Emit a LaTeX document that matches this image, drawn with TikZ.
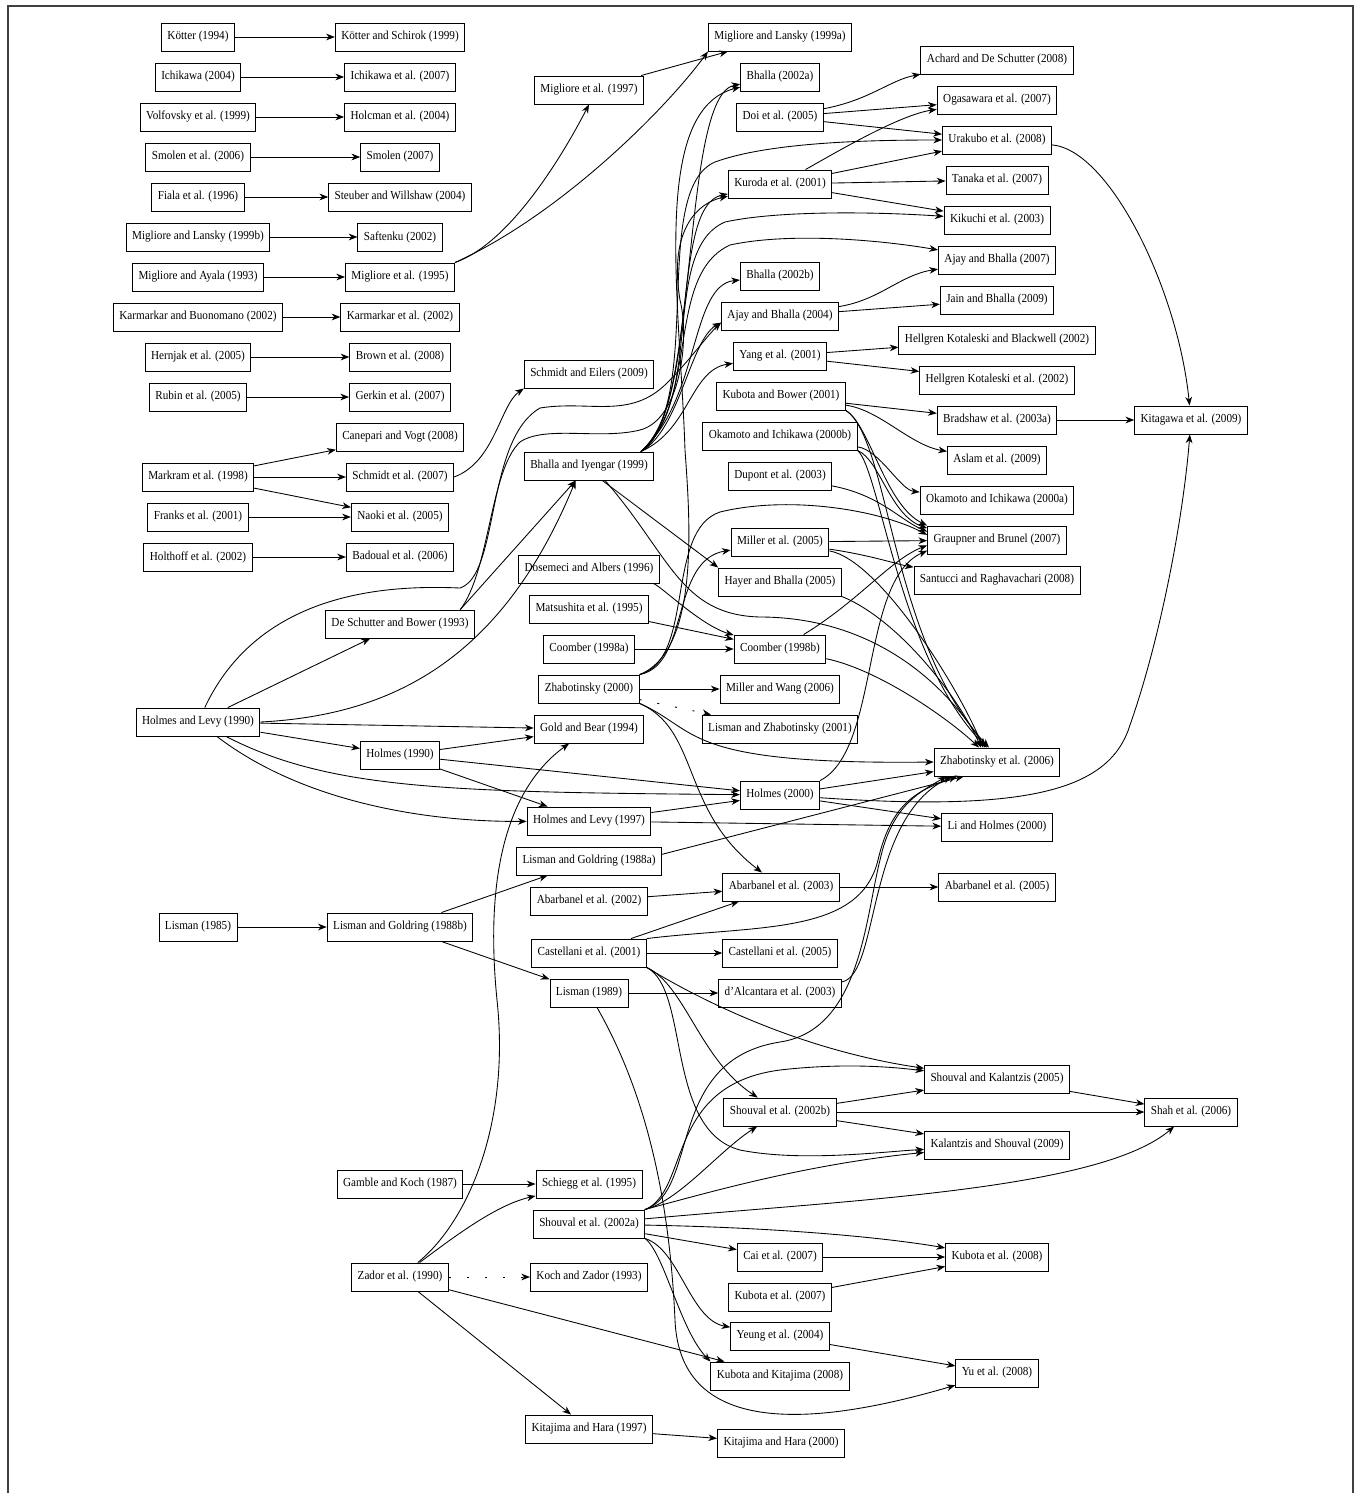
\documentclass[tikz,border=0pt]{standalone}
\usepackage{fontspec}
\setmainfont{Liberation Serif}[FakeStretch=0.91]
\usetikzlibrary{arrows.meta}

\tikzset{
  paper/.style={draw, line width=0.7pt, minimum height=21pt,
    inner xsep=4.5pt, inner ysep=0pt, font=\fontsize{9.2}{10}\selectfont},
  cites/.style={-{Stealth[length=6.5pt,width=5pt,inset=2pt]}, line width=0.65pt},
  hint/.style={cites, dash pattern=on 1.5pt off 12pt}
}

\begin{document}
\begin{tikzpicture}[x=0.75pt,y=-0.75pt]
\useasboundingbox (0,0) rectangle (1356,1493);
\draw[line width=0.8pt,black!75] (8,1493) -- (8,6) -- (1353,6) -- (1353,1493);

% first column
\node[paper] (kot94) at (198,37) {Kötter (1994)};
\node[paper] (ich04) at (198,77) {Ichikawa (2004)};
\node[paper] (vol99) at (198,117) {Volfovsky et al. (1999)};
\node[paper] (smo06) at (198,157) {Smolen et al. (2006)};
\node[paper] (fia96) at (198,197) {Fiala et al. (1996)};
\node[paper] (mig99b) at (198,237) {Migliore and Lansky (1999b)};
\node[paper] (mig93) at (198,277) {Migliore and Ayala (1993)};
\node[paper] (kar02a) at (198,317) {Karmarkar and Buonomano (2002)};
\node[paper] (her05) at (198,357) {Hernjak et al. (2005)};
\node[paper] (rub05) at (198,397) {Rubin et al. (2005)};
\node[paper] (mar98) at (198,477) {Markram et al. (1998)};
\node[paper] (fra01) at (198,517) {Franks et al. (2001)};
\node[paper] (hlt02) at (198,557) {Holthoff et al. (2002)};
\node[paper] (hl90) at (198,722) {Holmes and Levy (1990)};
\node[paper] (lis85) at (198,927) {Lisman (1985)};

% second column
\node[paper] (kot99) at (400,37) {Kötter and Schirok (1999)};
\node[paper] (ich07) at (400,77) {Ichikawa et al. (2007)};
\node[paper] (hcm04) at (400,117) {Holcman et al. (2004)};
\node[paper] (smo07) at (400,157) {Smolen (2007)};
\node[paper] (ste04) at (400,197) {Steuber and Willshaw (2004)};
\node[paper] (saf02) at (400,237) {Saftenku (2002)};
\node[paper] (mig95) at (400,277) {Migliore et al. (1995)};
\node[paper] (kar02b) at (400,317) {Karmarkar et al. (2002)};
\node[paper] (bro08) at (400,357) {Brown et al. (2008)};
\node[paper] (ger07) at (400,397) {Gerkin et al. (2007)};
\node[paper] (can08) at (400,437) {Canepari and Vogt (2008)};
\node[paper] (sch07) at (400,477) {Schmidt et al. (2007)};
\node[paper] (nao05) at (400,517) {Naoki et al. (2005)};
\node[paper] (bad06) at (400,557) {Badoual et al. (2006)};
\node[paper] (des93) at (400,624) {De Schutter and Bower (1993)};
\node[paper] (hol90) at (400,755) {Holmes (1990)};
\node[paper] (lg88b) at (400,927) {Lisman and Goldring (1988b)};
\node[paper] (gam87) at (400,1184) {Gamble and Koch (1987)};
\node[paper] (zad90) at (400,1277) {Zador et al. (1990)};

% third column
\node[paper] (mig97) at (589,90) {Migliore et al. (1997)};
\node[paper] (sch09) at (589,374) {Schmidt and Eilers (2009)};
\node[paper] (bi99) at (589,466) {Bhalla and Iyengar (1999)};
\node[paper] (dos96) at (589,569) {Dosemeci and Albers (1996)};
\node[paper] (mat95) at (589,609) {Matsushita et al. (1995)};
\node[paper] (coo98a) at (589,649) {Coomber (1998a)};
\node[paper] (zha00) at (589,689) {Zhabotinsky (2000)};
\node[paper] (gol94) at (589,729) {Gold and Bear (1994)};
\node[paper] (hl97) at (589,821) {Holmes and Levy (1997)};
\node[paper] (lg88a) at (589,861) {Lisman and Goldring (1988a)};
\node[paper] (aba02) at (589,901) {Abarbanel et al. (2002)};
\node[paper] (cas01) at (589,953) {Castellani et al. (2001)};
\node[paper] (lis89) at (589,993) {Lisman (1989)};
\node[paper] (sch95) at (589,1184) {Schiegg et al. (1995)};
\node[paper] (sho02a) at (589,1224) {Shouval et al. (2002a)};
\node[paper] (koc93) at (589,1277) {Koch and Zador (1993)};
\node[paper] (kit97) at (589,1429) {Kitajima and Hara (1997)};

% fourth column
\node[paper] (mig99a) at (780,37) {Migliore and Lansky (1999a)};
\node[paper] (bha02a) at (780,77) {Bhalla (2002a)};
\node[paper] (doi05) at (780,117) {Doi et al. (2005)};
\node[paper] (kur01) at (780,184) {Kuroda et al. (2001)};
\node[paper] (bha02b) at (780,276) {Bhalla (2002b)};
\node[paper] (aja04) at (780,316) {Ajay and Bhalla (2004)};
\node[paper] (yan01) at (780,356) {Yang et al. (2001)};
\node[paper] (kub01) at (781,396) {Kubota and Bower (2001)};
\node[paper] (oka00b) at (780,436) {Okamoto and Ichikawa (2000b)};
\node[paper] (dup03) at (780,476) {Dupont et al. (2003)};
\node[paper] (mil05) at (780,542) {Miller et al. (2005)};
\node[paper] (hay05) at (780,582) {Hayer and Bhalla (2005)};
\node[paper] (coo98b) at (780,649) {Coomber (1998b)};
\node[paper] (mil06) at (780,689) {Miller and Wang (2006)};
\node[paper] (liz01) at (780,729) {Lisman and Zhabotinsky (2001)};
\node[paper] (hol00) at (780,795) {Holmes (2000)};
\node[paper] (aba03) at (781,887) {Abarbanel et al. (2003)};
\node[paper] (cas05) at (780,953) {Castellani et al. (2005)};
\node[paper] (dal03) at (780,993) {d’Alcantara et al. (2003)};
\node[paper] (sho02b) at (780,1112) {Shouval et al. (2002b)};
\node[paper] (cai07) at (780,1257) {Cai et al. (2007)};
\node[paper] (kub07) at (780,1297) {Kubota et al. (2007)};
\node[paper] (yeu04) at (780,1336) {Yeung et al. (2004)};
\node[paper] (kuk08) at (780,1376) {Kubota and Kitajima (2008)};
\node[paper] (kit00) at (781,1443) {Kitajima and Hara (2000)};

% fifth column
\node[paper] (ach08) at (997,60) {Achard and De Schutter (2008)};
\node[paper] (oga07) at (997,100) {Ogasawara et al. (2007)};
\node[paper] (ura08) at (997,140) {Urakubo et al. (2008)};
\node[paper] (tan07) at (997,180) {Tanaka et al. (2007)};
\node[paper] (kik03) at (997,220) {Kikuchi et al. (2003)};
\node[paper] (aja07) at (997,260) {Ajay and Bhalla (2007)};
\node[paper] (jai09) at (997,300) {Jain and Bhalla (2009)};
\node[paper] (hkb02) at (997,340) {Hellgren Kotaleski and Blackwell (2002)};
\node[paper] (hke02) at (997,380) {Hellgren Kotaleski et al. (2002)};
\node[paper] (bra03) at (997,420) {Bradshaw et al. (2003a)};
\node[paper] (asl09) at (997,460) {Aslam et al. (2009)};
\node[paper] (oka00a) at (997,500) {Okamoto and Ichikawa (2000a)};
\node[paper] (gra07) at (997,540) {Graupner and Brunel (2007)};
\node[paper] (san08) at (997,580) {Santucci and Raghavachari (2008)};
\node[paper] (zha06) at (997,762) {Zhabotinsky et al. (2006)};
\node[paper] (lih00) at (997,827) {Li and Holmes (2000)};
\node[paper] (aba05) at (997,887) {Abarbanel et al. (2005)};
\node[paper] (shk05) at (997,1079) {Shouval and Kalantzis (2005)};
\node[paper] (kas09) at (997,1145) {Kalantzis and Shouval (2009)};
\node[paper] (kub08) at (997,1257) {Kubota et al. (2008)};
\node[paper] (yu08) at (997,1373) {Yu et al. (2008)};

% last column
\node[paper] (kit09) at (1191,420) {Kitagawa et al. (2009)};
\node[paper] (sha06) at (1191,1112) {Shah et al. (2006)};

% straight citations
\foreach \a/\b in {kot94/kot99, ich04/ich07, vol99/hcm04, smo06/smo07,
    fia96/ste04, mig99b/saf02, mig93/mig95, kar02a/kar02b, her05/bro08,
    rub05/ger07, mar98/can08, mar98/sch07, mar98/nao05, fra01/nao05,
    hlt02/bad06, mig97/mig99a, hl90/des93, hl90/hol90, hl90/gol94,
    hol90/gol94, hol90/hol00, hol90/hl97, hl97/hol00, hl97/lih00,
    hol00/zha06, hol00/lih00, doi05/oga07, doi05/ura08, kur01/ura08,
    kur01/tan07, kur01/kik03, aja04/jai09, yan01/hkb02, yan01/hke02,
    kub01/bra03, bra03/kit09, mil05/gra07, zha00/mil06, coo98a/coo98b,
    mat95/coo98b, aba02/aba03, cas01/aba03, aba03/aba05, cas01/cas05,
    lis85/lg88b, lg88b/lg88a, lg88b/lis89, lis89/dal03, sho02b/shk05,
    sho02b/sha06, sho02b/kas09, shk05/sha06, sho02a/cai07, cai07/kub08,
    kub07/kub08, yeu04/yu08, gam87/sch95, zad90/kuk08, zad90/kit97,
    kit97/kit00}
  \draw[cites] (\a) -- (\b);

\draw[hint] (zha00) -- (liz01);
\draw[hint] (zad90) -- (koc93);

% upper left
\draw[cites] (mig95.north east) .. controls (505,245) and (555,170) .. (mig97.south);
\draw[cites] (mig95.north east) .. controls (560,215) and (665,110) .. (mig99a.south west);
\draw[cites] (sch07.east) .. controls (495,462) and (500,405) .. (sch09.south west);
\draw[cites] ([xshift=-11pt]des93.north east) -- ([xshift=-10pt]bi99.south);
\draw[cites] (hl90.east) .. controls (400,715) and (505,652) .. ([xshift=-10pt]bi99.south);
\draw[cites] (hl90) .. controls (330,790) and (450,792) .. (hol00);
\draw[cites] (hl90) .. controls (300,800) and (420,822) .. (hl97);
\draw[cites] (hl90) .. controls (260,590) and (390,585) .. (460,588)
  .. controls (500,575) and (485,440) .. (540,408)
  .. controls (590,400) and (630,420) .. (667,383)
  .. controls (690,360) and (705,338) .. ([yshift=-5pt]aja04.west);
\draw[cites] ([xshift=-11pt]des93.north east) .. controls (490,570) and (490,470) .. (520,442)
  .. controls (545,425) and (600,440) .. (640,430)
  .. controls (680,420) and (690,340) .. (680,300)
  .. controls (670,240) and (690,205) .. (kur01);

% Bhalla and Iyengar
\draw[cites] ([xshift=-10pt]bi99.north east) .. controls (700,420) and (680,95) .. (bha02a);
\draw[cites] ([xshift=-10pt]bi99.north east) .. controls (705,400) and (650,190) .. (715,162)
  .. controls (770,142) and (870,140) .. (ura08);
\draw[cites] ([xshift=-10pt]bi99.north east) .. controls (705,400) and (660,250) .. (725,222)
  .. controls (780,210) and (880,212) .. (kik03);
\draw[cites] ([xshift=-10pt]bi99.north east) .. controls (700,400) and (665,275) .. (730,245)
  .. controls (790,232) and (880,240) .. (aja07);
\draw[cites] ([xshift=-10pt]bi99.north east) .. controls (700,400) and (690,285) .. (bha02b);
\draw[cites] ([xshift=-10pt]bi99.north east) .. controls (680,430) and (690,340) .. ([yshift=-5pt]aja04.west);
\draw[cites] ([xshift=-10pt]bi99.north east) .. controls (690,430) and (690,370) .. (yan01);
\draw[cites] ([xshift=-10pt]bi99.north east) .. controls (700,400) and (670,205) .. (kur01);
\draw[cites] ([xshift=10pt]bi99.south) -- (hay05.north west);
\draw[cites] ([xshift=12pt]bi99.south) .. controls (670,555) and (680,615) .. (760,617)
  .. controls (850,617) and (930,660) .. ([xshift=-9pt]zha06.north);

% Zhabotinsky (2000)
\draw[cites] (zha00.north east) .. controls (690,665) and (670,560) .. (mil05);
\draw[cites] (zha00.north east) .. controls (695,660) and (665,530) .. (720,512)
  .. controls (790,495) and (880,510) .. ([yshift=-7pt]gra07.north west);
\draw[cites] (zha00.north east) .. controls (700,650) and (690,520) .. (685,450)
  .. controls (680,300) and (650,110) .. (bha02a);
\draw[cites] (zha00.south east) .. controls (700,730) and (680,765) .. (zha06.west);
\draw[cites] (zha00.south east) .. controls (700,730) and (680,810) .. (aba03);
\draw[cites] (dos96) .. controls (660,585) and (700,625) .. (coo98b);

% right upper block
\draw[cites] (doi05) .. controls (870,100) and (890,80) .. (ach08);
\draw[cites] (kur01) .. controls (840,150) and (900,115) .. (oga07);
\draw[cites] (aja04) .. controls (880,300) and (900,275) .. (aja07);
\draw[cites] (kub01) .. controls (880,410) and (910,445) .. (asl09);
\draw[cites] (oka00b) .. controls (880,450) and (900,490) .. (oka00a);
\draw[cites] (ura08) .. controls (1110,150) and (1178,290) .. (kit09);
\draw[cites] (hol00) .. controls (1030,812) and (1110,790) .. (1130,725)
  .. controls (1160,640) and (1183,520) .. (kit09);

% into Graupner and Brunel (2007)
\draw[cites] (kub01.south east) .. controls (870,425) and (885,505) .. (gra07.north west);
\draw[cites] (oka00b.south east) .. controls (880,460) and (890,515) .. ([yshift=-2pt]gra07.north west);
\draw[cites] (dup03) .. controls (880,495) and (900,520) .. ([yshift=-4.5pt]gra07.north west);
\draw[cites] (coo98b) .. controls (860,600) and (890,560) .. ([yshift=-4pt]gra07.west);
\draw[cites] (hol00.north east) .. controls (880,750) and (860,580) .. ([yshift=-8pt]gra07.west);
\draw[cites] (mil05) .. controls (870,555) and (900,565) .. (san08);

% into Zhabotinsky et al. (2006)
\draw[cites] (kub01.south east) .. controls (890,440) and (890,640) .. ([xshift=-6pt]zha06.north);
\draw[cites] (oka00b.south east) .. controls (880,470) and (900,660) .. ([xshift=-7.5pt]zha06.north);
\draw[cites] (mil05) .. controls (880,560) and (960,690) .. ([xshift=-10.5pt]zha06.north);
\draw[cites] (hay05.south east) .. controls (900,620) and (960,700) .. ([xshift=-12pt]zha06.north);
\draw[cites] (coo98b) .. controls (880,670) and (950,720) .. ([xshift=-13.5pt]zha06.north);
\draw[cites] ([yshift=5pt]lg88a.east) -- ([xshift=-25pt]zha06.south);
\draw[cites] (cas01.north east) .. controls (760,925) and (860,935) .. (878,860)
  .. controls (892,800) and (920,790) .. ([xshift=-30pt]zha06.south);
\draw[cites] (dal03) .. controls (880,975) and (865,820) .. ([xshift=-34pt]zha06.south);
\draw[cites] (sho02a.north east) .. controls (700,1190) and (665,1060) .. (780,1042)
  .. controls (860,1030) and (865,920) .. (880,860)
  .. controls (892,805) and (920,792) .. ([xshift=-38pt]zha06.south);

% Castellani and Shouval
\draw[cites] (cas01.south east) .. controls (685,985) and (700,1060) .. (sho02b);
\draw[cites] (cas01.south east) .. controls (700,1000) and (800,1050) .. (shk05);
\draw[cites] (cas01.south east) .. controls (690,990) and (665,1130) .. (740,1150)
  .. controls (800,1162) and (880,1152) .. (kas09);
\draw[cites] (sho02a.north east) .. controls (680,1200) and (720,1150) .. (sho02b);
\draw[cites] (sho02a.north east) .. controls (690,1190) and (665,1085) .. (780,1070)
  .. controls (850,1062) and (900,1068) .. (shk05);
\draw[cites] (sho02a) .. controls (700,1195) and (800,1165) .. (kas09);
\draw[cites] (sho02a) .. controls (850,1200) and (1100,1190) .. (sha06);
\draw[cites] (sho02a) .. controls (800,1228) and (900,1240) .. (kub08);
\draw[cites] (sho02a.south east) .. controls (680,1250) and (690,1320) .. (yeu04);
\draw[cites] (sho02a.south east) .. controls (665,1255) and (680,1330) .. (kuk08.north west);
\draw[cites] ([xshift=6pt]lis89.south) .. controls (650,1100) and (670,1210) .. (675,1320)
  .. controls (680,1440) and (820,1425) .. (yu08);

% Zador et al. (1990)
\draw[cites] (zad90) .. controls (450,1240) and (495,1205) .. (sch95);
\draw[cites] (zad90) .. controls (470,1220) and (510,1120) .. (497,1000)
  .. controls (485,880) and (505,790) .. (gol94);
\end{tikzpicture}
\end{document}
